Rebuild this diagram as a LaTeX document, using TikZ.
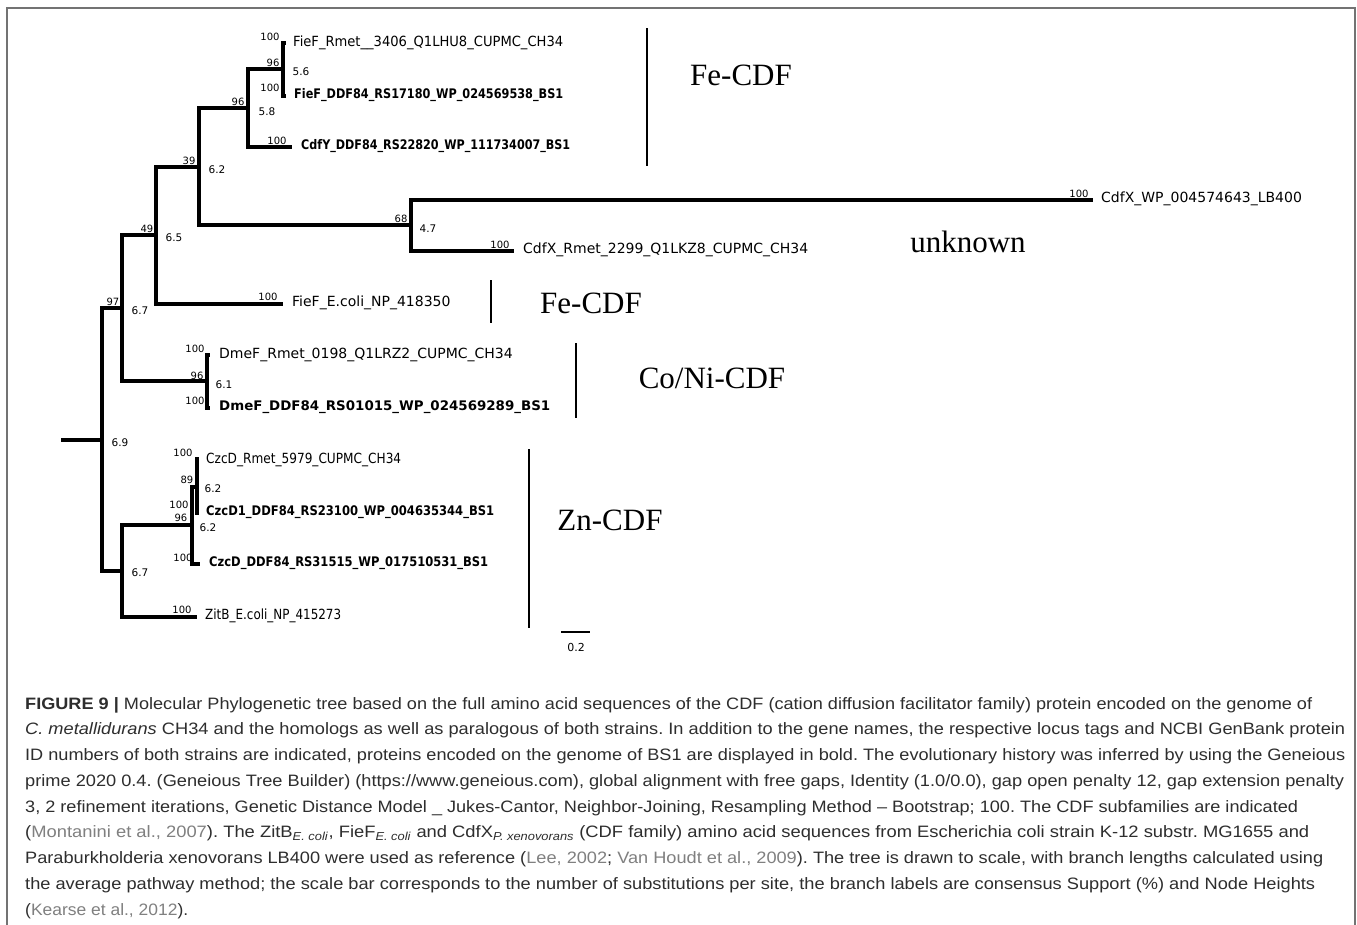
\documentclass[tikz,border=0pt]{standalone}
\usepackage{fontspec}
\usepackage{graphicx}
\setmainfont{Liberation Serif}
\newfontfamily\treefont{DejaVu Sans}
\newfontfamily\capfont{Liberation Sans}
\definecolor{citegray}{rgb}{0.5,0.5,0.5}
\definecolor{captext}{rgb}{0.18,0.18,0.18}
\definecolor{framegray}{rgb}{0.45,0.45,0.45}
\newcommand\cit[1]{\textcolor{citegray}{#1}}
\newcommand\capline[2]{\resizebox{#1}{\height}{\capfont\frenchspacing\fontsize{16.5}{18}\selectfont\color{captext}#2}}
\newcommand\fitw[2]{\resizebox{#1}{\height}{#2}}
\begin{document}
\begin{tikzpicture}[x=1pt,y=-1pt,
  br/.style={line width=3.2pt, line join=miter},
  cladebar/.style={line width=2.8pt},
  leaf/.style={anchor=mid west, inner sep=0pt, font=\treefont\fontsize{14}{16}\selectfont},
  leafb/.style={anchor=mid west, inner sep=0pt, font=\treefont\bfseries\fontsize{13.2}{16}\selectfont},
  sup/.style={inner sep=0pt, font=\treefont\fontsize{10}{12}\selectfont},
  hgt/.style={inner sep=0pt, font=\treefont\fontsize{10.5}{12}\selectfont},
  fam/.style={inner sep=0pt, font=\fontsize{31}{34}\selectfont},
  capl/.style={anchor=base west, inner sep=0pt}]
\useasboundingbox (0,0) rectangle (1357,924);
\fill[white] (0,0) rectangle (1357,924);
% frame
\draw[framegray, line width=1.4pt] (7,930) -- (7,8) -- (1355,8) -- (1355,930);

% tree coordinates
\coordinate (r0) at (61,440);
\coordinate (R) at (102,440);
\coordinate (n97) at (122,308);
\coordinate (n49) at (156,235);
\coordinate (n39) at (199,167);
\coordinate (n96a) at (248,108);
\coordinate (n96b) at (283,69);
\coordinate (lFieFR) at (286,43);
\coordinate (lFieFD) at (286,96);
\coordinate (lCdfY) at (292,147);
\coordinate (n68) at (411,225);
\coordinate (lCdfXWP) at (1093,200);
\coordinate (lCdfXR) at (514,251);
\coordinate (lFieFE) at (283,304);
\coordinate (nDme) at (207,381);
\coordinate (lDmeR) at (210,355);
\coordinate (lDmeD) at (210,408);
\coordinate (nLow) at (122,571);
\coordinate (nCzc) at (192,525);
\coordinate (n89) at (197,487);
\coordinate (lCzcR) at (199,459);
\coordinate (lCzcD1) at (199,513);
\coordinate (lCzcDD) at (200,564);
\coordinate (lZitB) at (197,617);

% branches
\draw[br] (r0) -- (R);
\draw[br] (R) |- (n97);
\draw[br] (R) |- (nLow);
\draw[br] (n97) |- (n49);
\draw[br] (n97) |- (nDme);
\draw[br] (n49) |- (n39);
\draw[br] (n49) |- (lFieFE);
\draw[br] (n39) |- (n96a);
\draw[br] (n39) |- (n68);
\draw[br] (n96a) |- (n96b);
\draw[br] (n96a) |- (lCdfY);
\draw[br] (n96b) |- (lFieFR);
\draw[br] (n96b) |- (lFieFD);
\draw[br] (n68) |- (lCdfXWP);
\draw[br] (n68) |- (lCdfXR);
\draw[br] (nDme) |- (lDmeR);
\draw[br] (nDme) |- (lDmeD);
\draw[br] (nLow) |- (nCzc);
\draw[br] (nLow) |- (lZitB);
\draw[br] (nCzc) |- (n89);
\draw[br] (nCzc) |- (lCzcDD);
\draw[br] (n89) |- (lCzcR);
\draw[br] (n89) |- (lCzcD1);

% leaf labels
\node[leaf] (tFieFR) at (293,44) {\fitw{270pt}{FieF\_Rmet\_\_3406\_Q1LHU8\_CUPMC\_CH34}};
\node[leafb] (tFieFD) at (294,96) {\fitw{269pt}{FieF\_DDF84\_RS17180\_WP\_024569538\_BS1}};
\node[leafb] (tCdfY) at (301,147) {\fitw{269pt}{CdfY\_DDF84\_RS22820\_WP\_111734007\_BS1}};
\node[leaf] (tCdfXWP) at (1101,200) {CdfX\_WP\_004574643\_LB400};
\node[leaf] (tCdfXR) at (523,251) {CdfX\_Rmet\_2299\_Q1LKZ8\_CUPMC\_CH34};
\node[leaf] (tFieFE) at (292,304) {FieF\_E.coli\_NP\_418350};
\node[leaf] (tDmeR) at (219,356) {DmeF\_Rmet\_0198\_Q1LRZ2\_CUPMC\_CH34};
\node[leafb] (tDmeD) at (219,408) {\fitw{331pt}{DmeF\_DDF84\_RS01015\_WP\_024569289\_BS1}};
\node[leaf] (tCzcR) at (206,461) {\fitw{195pt}{CzcD\_Rmet\_5979\_CUPMC\_CH34}};
\node[leafb] (tCzcD1) at (206,513) {\fitw{288pt}{CzcD1\_DDF84\_RS23100\_WP\_004635344\_BS1}};
\node[leafb] (tCzcDD) at (209,564) {\fitw{279pt}{CzcD\_DDF84\_RS31515\_WP\_017510531\_BS1}};
\node[leaf] (tZitB) at (205,617) {\fitw{136pt}{ZitB\_E.coli\_NP\_415273}};

% support values
\node[sup] (s1) at (270,37) {100};
\node[sup] (s2) at (273,63) {96};
\node[sup] (s3) at (270,88) {100};
\node[sup] (s4) at (238,102) {96};
\node[sup] (s5) at (277,141) {100};
\node[sup] (s6) at (189,161) {39};
\node[sup] (s7) at (147,229) {49};
\node[sup] (s8) at (401,219) {68};
\node[sup] (s9) at (1079,194) {100};
\node[sup] (s10) at (500,245) {100};
\node[sup] (s11) at (268,297) {100};
\node[sup] (s12) at (113,302) {97};
\node[sup] (s13) at (195,349) {100};
\node[sup] (s14) at (197,376) {96};
\node[sup] (s15) at (195,401) {100};
\node[sup] (s16) at (183,453) {100};
\node[sup] (s17) at (187,480) {89};
\node[sup] (s18) at (179,505) {100};
\node[sup] (s19) at (181,518) {96};
\node[sup] (s20) at (183,558) {100};
\node[sup] (s21) at (182,610) {100};

% node heights
\node[hgt] (h1) at (301,72) {5.6};
\node[hgt] (h2) at (267,112) {5.8};
\node[hgt] (h3) at (217,170) {6.2};
\node[hgt] (h4) at (174,238) {6.5};
\node[hgt] (h5) at (428,229) {4.7};
\node[hgt] (h6) at (140,311) {6.7};
\node[hgt] (h7) at (224,385) {6.1};
\node[hgt] (h8) at (120,443) {6.9};
\node[hgt] (h9) at (213,489) {6.2};
\node[hgt] (h10) at (208,528) {6.2};
\node[hgt] (h11) at (140,573) {6.7};

% clade bars and family names
\draw[cladebar] (647,28) -- (647,166);
\node[fam] (f1) at (741,75) {Fe-CDF};
\node[fam] (f2) at (968,242) {unknown};
\draw[cladebar] (491,280) -- (491,323);
\node[fam] (f3) at (591,303) {Fe-CDF};
\draw[cladebar] (576,343) -- (576,418);
\node[fam] (f4) at (712,378) {Co/Ni-CDF};
\draw[cladebar] (529,449) -- (529,628);
\node[fam] (f5) at (610,520) {Zn-CDF};

% scale bar
\coordinate (sb1) at (561,632);
\coordinate (sb2) at (590,632);
\draw[line width=1.2pt] (sb1) -- (sb2);
\node[inner sep=0pt, font=\treefont\fontsize{11}{12}\selectfont] (sbl) at (576,647) {0.2};

% caption
\node[capl] (c1) at (25,709) {\capline{1287pt}{\textbf{FIGURE 9 |} Molecular Phylogenetic tree based on the full amino acid sequences of the CDF (cation diffusion facilitator family) protein encoded on the genome of}};
\node[capl] (c2) at (25,734.75) {\capline{1320pt}{\textit{C. metallidurans} CH34 and the homologs as well as paralogous of both strains. In addition to the gene names, the respective locus tags and NCBI GenBank protein}};
\node[capl] (c3) at (25,760.5) {\capline{1320pt}{ID numbers of both strains are indicated, proteins encoded on the genome of BS1 are displayed in bold. The evolutionary history was inferred by using the Geneious}};
\node[capl] (c4) at (25,786.25) {\capline{1319pt}{prime 2020 0.4. (Geneious Tree Builder) (https://www.geneious.com), global alignment with free gaps, Identity (1.0/0.0), gap open penalty 12, gap extension penalty}};
\node[capl] (c5) at (25,812) {\capline{1273pt}{3, 2 refinement iterations, Genetic Distance Model \_ Jukes-Cantor, Neighbor-Joining, Resampling Method – Bootstrap; 100. The CDF subfamilies are indicated}};
\node[capl] (c6) at (25,837.75) {\capline{1284pt}{(\cit{Montanini et al., 2007}). The ZitB\textsubscript{\textit{E. coli}}, FieF\textsubscript{\textit{E. coli}} and CdfX\textsubscript{\textit{P. xenovorans}} (CDF family) amino acid sequences from Escherichia coli strain K-12 substr. MG1655 and}};
\node[capl] (c7) at (25,863.5) {\capline{1298pt}{Paraburkholderia xenovorans LB400 were used as reference (\cit{Lee, 2002}; \cit{Van Houdt et al., 2009}). The tree is drawn to scale, with branch lengths calculated using}};
\node[capl] (c8) at (25,889.25) {\capline{1290pt}{the average pathway method; the scale bar corresponds to the number of substitutions per site, the branch labels are consensus Support (\%) and Node Heights}};
\node[capl] (c9) at (25,915) {\capline{163pt}{(\cit{Kearse et al., 2012}).}};
\end{tikzpicture}
\end{document}
